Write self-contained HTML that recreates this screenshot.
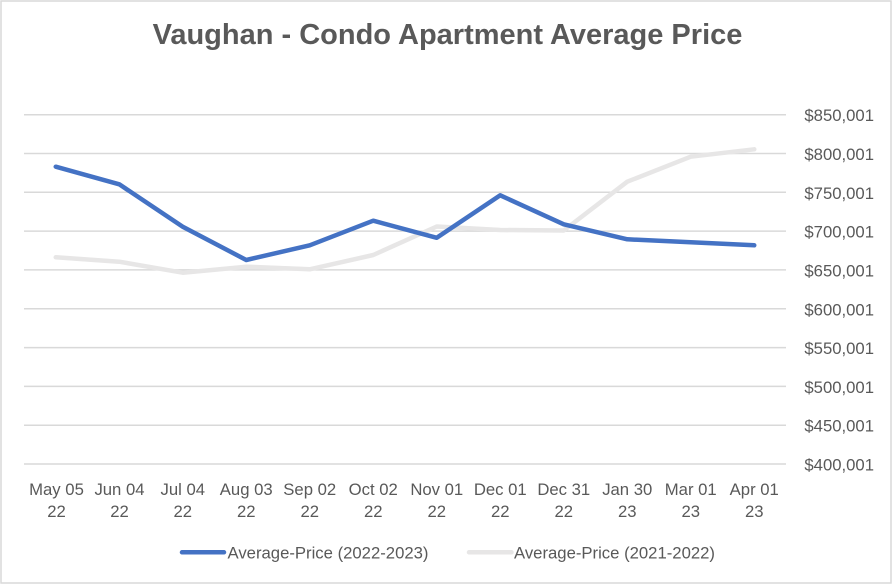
<!DOCTYPE html>
<html>
<head>
<meta charset="utf-8">
<style>
html,body{margin:0;padding:0;background:#fff;}
svg{display:block;}
text{font-family:"Liberation Sans",Arial,sans-serif;fill:#595959;}
</style>
</head>
<body>
<svg width="893" height="584" viewBox="0 0 893 584" xmlns="http://www.w3.org/2000/svg">
  <rect x="0" y="0" width="893" height="584" fill="#fff"/>
  <rect x="1" y="1" width="890" height="582" fill="none" stroke="#D9D9D9" stroke-width="1.5"/>

  <text x="447.5" y="44" text-anchor="middle" font-size="29" font-weight="bold">Vaughan - Condo Apartment Average Price</text>

  <g stroke="#D9D9D9" stroke-width="1.5">
    <line x1="24" x2="786" y1="114.7" y2="114.7"/>
    <line x1="24" x2="786" y1="153.5" y2="153.5"/>
    <line x1="24" x2="786" y1="192.3" y2="192.3"/>
    <line x1="24" x2="786" y1="231.1" y2="231.1"/>
    <line x1="24" x2="786" y1="269.9" y2="269.9"/>
    <line x1="24" x2="786" y1="308.8" y2="308.8"/>
    <line x1="24" x2="786" y1="347.6" y2="347.6"/>
    <line x1="24" x2="786" y1="386.4" y2="386.4"/>
    <line x1="24" x2="786" y1="425.2" y2="425.2"/>
    <line x1="24" x2="786" y1="464" y2="464"/>
  </g>

  <g font-size="16.7" text-anchor="end">
    <text x="874" y="121.2">$850,001</text>
    <text x="874" y="160">$800,001</text>
    <text x="874" y="198.8">$750,001</text>
    <text x="874" y="237.6">$700,001</text>
    <text x="874" y="276.4">$650,001</text>
    <text x="874" y="315.3">$600,001</text>
    <text x="874" y="354.1">$550,001</text>
    <text x="874" y="392.9">$500,001</text>
    <text x="874" y="431.7">$450,001</text>
    <text x="874" y="470.5">$400,001</text>
  </g>

  <g font-size="16.7" text-anchor="middle">
    <text x="56.5" y="495">May 05</text><text x="56.5" y="517">22</text>
    <text x="119.5" y="495">Jun 04</text><text x="119.5" y="517">22</text>
    <text x="182.75" y="495">Jul 04</text><text x="182.75" y="517">22</text>
    <text x="246.25" y="495">Aug 03</text><text x="246.25" y="517">22</text>
    <text x="309.75" y="495">Sep 02</text><text x="309.75" y="517">22</text>
    <text x="373.25" y="495">Oct 02</text><text x="373.25" y="517">22</text>
    <text x="436.75" y="495">Nov 01</text><text x="436.75" y="517">22</text>
    <text x="500.25" y="495">Dec 01</text><text x="500.25" y="517">22</text>
    <text x="563.75" y="495">Dec 31</text><text x="563.75" y="517">22</text>
    <text x="627.25" y="495">Jan 30</text><text x="627.25" y="517">23</text>
    <text x="690.75" y="495">Mar 01</text><text x="690.75" y="517">23</text>
    <text x="754.25" y="495">Apr 01</text><text x="754.25" y="517">23</text>
  </g>

  <polyline fill="none" stroke="#E7E6E6" stroke-width="4.5" stroke-linejoin="round" stroke-linecap="round"
    points="55.75,257.3 119.25,261.7 182.75,272.7 246.25,266.7 309.75,269.3 373.25,255 436.75,226.5 500.25,230 563.75,230.5 627.25,181.7 690.75,156.7 754.25,149.3"/>
  <polyline fill="none" stroke="#4472C4" stroke-width="4.5" stroke-linejoin="round" stroke-linecap="round"
    points="55.75,166.7 119.25,184.3 182.75,226.7 246.25,260 309.75,245.3 373.25,220.7 436.75,237.8 500.25,195.3 563.75,224.3 627.25,239.3 690.75,242.3 754.25,245.3"/>

  <line x1="182" y1="552.3" x2="224" y2="552.3" stroke="#4472C4" stroke-width="4.5" stroke-linecap="round"/>
  <text x="227.5" y="558.3" font-size="16.7">Average-Price (2022-2023)</text>
  <line x1="469" y1="552.3" x2="511.5" y2="552.3" stroke="#E7E6E6" stroke-width="4.5" stroke-linecap="round"/>
  <text x="514" y="558.3" font-size="16.7">Average-Price (2021-2022)</text>
</svg>
</body>
</html>
